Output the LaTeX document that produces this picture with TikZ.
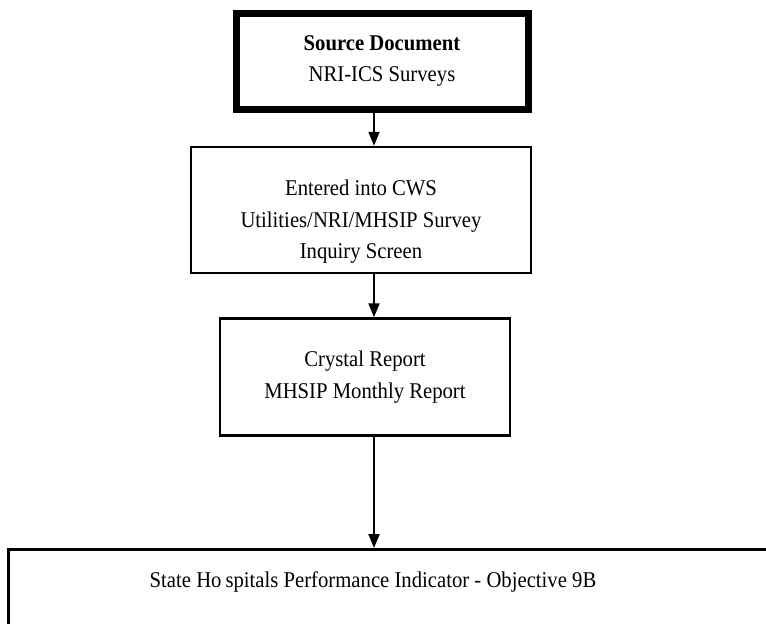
\documentclass[tikz,border=0pt]{standalone}
\usepackage{fontspec}
\setmainfont[FakeStretch=0.92]{Liberation Serif}
\usetikzlibrary{arrows.meta,positioning}

\begin{document}
\begin{tikzpicture}[x=1pt,y=-1pt,>={Triangle[length=14pt,width=11pt]},
  every node/.style={font=\fontsize{22.5}{31.5}\selectfont},
  box/.style={draw,line width=2.5pt,inner sep=0pt,align=center},
  flow/.style={->,line width=2pt}]
  \clip (0,0) rectangle (766,624);
  \coordinate (axis) at (374,0);

  \node[box,line width=7pt,minimum width=292pt,minimum height=96pt] (src) at (382,61)
    {\textbf{Source Document}\\NRI-ICS Surveys};
  \node[box,minimum width=340pt,minimum height=126pt] (cws) at (361,210) {};
  \node[align=center] at ([yshift=-12pt]cws.center)
    {Entered into CWS\\Utilities/NRI/MHSIP Survey\\Inquiry Screen};
  \node[box,minimum width=290pt,minimum height=117pt] (rpt) at (365,377)
    {Crystal Report\\MHSIP Monthly Report};
  \node[box,anchor=north west,minimum width=800pt,minimum height=120pt] (ind) at (7,548) {};
  \node at (373,582) {State Ho\hspace{4pt}spitals Performance Indicator - Objective 9B};

  \draw[flow] (src.south -| axis) -- (cws.north -| axis);
  \draw[flow] (cws.south -| axis) -- (rpt.north -| axis);
  \draw[flow] (rpt.south -| axis) -- (ind.north -| axis);
\end{tikzpicture}
\end{document}
